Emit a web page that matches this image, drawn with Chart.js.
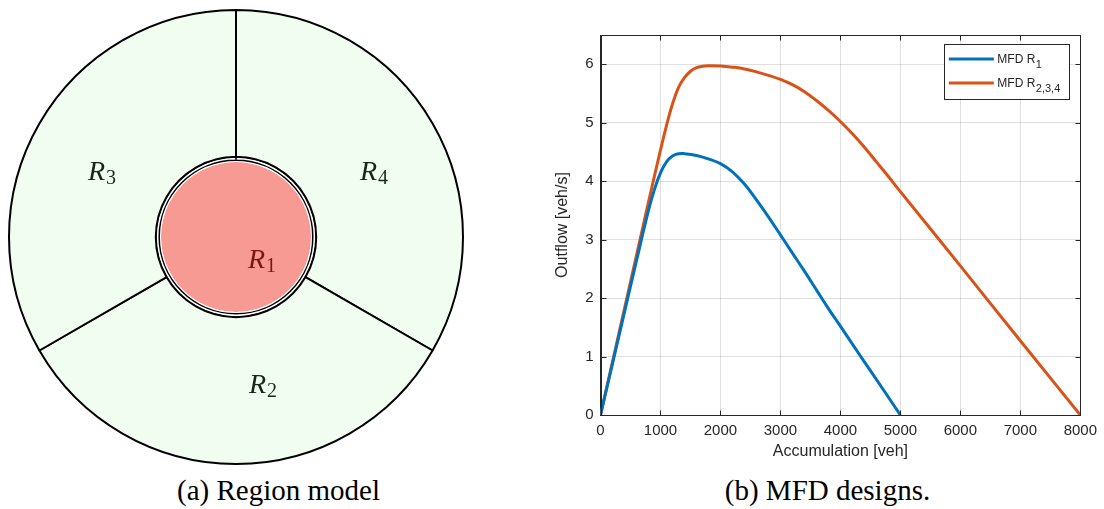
<!DOCTYPE html>
<html lang="en">
<head>
  <meta charset="UTF-8">
  <title>Region model and MFD designs</title>
  <script src="https://cdn.jsdelivr.net/npm/chart.js"></script>
  <style>
    body {
      margin: 0;
      background: #fff;
      width: 1104px;
      height: 509px;
      position: relative;
      overflow: hidden;
    }
    canvas { position: absolute; }
    #regions { left: 8px; top: 9px; }
    #mfd { left: 540px; top: 2px; }
    .caption {
      position: absolute;
      top: 476px;
      font-family: "Liberation Serif", "Times New Roman", serif;
      font-size: 29px;
      line-height: 29px;
      text-align: center;
      color: #000;
      white-space: nowrap;
    }
  </style>
</head>
<body>
  <canvas id="regions" width="456" height="456"></canvas>
  <canvas id="mfd" width="564" height="470"></canvas>
  <div class="caption" style="left:0;width:557px;">(a) Region model</div>
  <div class="caption" style="left:600px;width:455px;">(b) MFD designs.</div>

  <script>
    // --- region model (a) ---
    const sectorNames = ['4', '2', '3'];   // R4 upper right, R2 bottom, R3 upper left
    const sectorShares = [1, 1, 1];
    const centreName = '1';

    // --- MFD curves (b) ---
    const accR1 = [0, 200, 400, 600, 800, 900, 1000, 1100, 1200, 1300, 1400, 1600, 1800,
                   2000, 2200, 2400, 2600, 2800, 3000, 3200, 3400, 3600, 3800, 4000, 4300, 4500, 5000];
    const flowR1 = [0, 0.88, 1.76, 2.64, 3.5, 3.86, 4.14, 4.33, 4.43, 4.47, 4.47, 4.44, 4.38,
                    4.30, 4.16, 3.95, 3.68, 3.39, 3.08, 2.77, 2.46, 2.14, 1.82, 1.52, 1.06, 0.76, 0];

    const accR234 = [0, 200, 400, 600, 800, 900, 1000, 1100, 1200, 1300, 1400, 1500, 1600, 1700, 1800,
                     2000, 2200, 2400, 2600, 2800, 3000, 3200, 3400, 3600, 3800, 4000, 4200, 4400, 4600,
                     4800, 5000, 6000, 7000, 8000];
    const flowR234 = [0, 0.91, 1.82, 2.73, 3.64, 4.09, 4.53, 4.95, 5.32, 5.6, 5.77, 5.88, 5.94, 5.965, 5.975,
                      5.97, 5.95, 5.92, 5.87, 5.81, 5.74, 5.65, 5.53, 5.38, 5.21, 5.02, 4.81, 4.58, 4.33,
                      4.08, 3.82, 2.55, 1.27, 0];

    const xTicks = [0, 1000, 2000, 3000, 4000, 5000, 6000, 7000, 8000];
    const yTicks = [0, 1, 2, 3, 4, 5, 6];
    const legendSubs = ['1', '2,3,4'];

    const axisColor = '#262626';
    const sans = '"Liberation Sans", Arial, Helvetica, sans-serif';
    const serif = '"Liberation Serif", "Times New Roman", serif';

    // labels of the region model, baseline-left offsets from the centre
    const regionLabelPlugin = {
      id: 'regionLabels',
      afterDraw(chart) {
        const arc = chart.getDatasetMeta(0).data[0];
        const cx = arc.x, cy = arc.y;
        const ctx = chart.ctx;
        const spots = [
          { sub: sectorNames[0], dx: 124, dy: -57, color: '#142814' },
          { sub: sectorNames[1], dx: 13, dy: 156, color: '#142814' },
          { sub: sectorNames[2], dx: -148, dy: -57, color: '#142814' },
          { sub: centreName, dx: 12, dy: 31, color: '#7b1515' }
        ];
        ctx.save();
        ctx.textBaseline = 'alphabetic';
        ctx.textAlign = 'left';
        spots.forEach(s => {
          ctx.fillStyle = s.color;
          ctx.font = 'italic 28px ' + serif;
          ctx.fillText('R', cx + s.dx, cy + s.dy);
          const w = ctx.measureText('R').width;
          ctx.font = '20px ' + serif;
          ctx.fillText(s.sub, cx + s.dx + w + 1, cy + s.dy + 4);
        });
        ctx.restore();
      }
    };

    new Chart(document.getElementById('regions'), {
      type: 'doughnut',
      data: {
        labels: sectorNames.map(n => 'R' + n),
        datasets: [
          { data: sectorShares, backgroundColor: '#f2fdf2', borderColor: '#000', borderWidth: 2, weight: 146.8 },
          { data: [1], backgroundColor: '#fff', borderColor: '#000', borderWidth: 1.5, weight: 3.4 },
          { data: [1], backgroundColor: '#fff', borderColor: '#fff', borderWidth: 0, weight: 1.8 },
          { data: [1], backgroundColor: '#f69a93', borderColor: '#f69a93', borderWidth: 0, weight: 75 }
        ]
      },
      options: {
        responsive: false,
        animation: false,
        events: [],
        cutout: 0,
        rotation: 0,
        hoverOffset: 0,
        offset: 0,
        plugins: { legend: { display: false }, tooltip: { enabled: false } }
      },
      plugins: [regionLabelPlugin]
    });

    // MATLAB-like box with inward ticks on all four sides
    const boxPlugin = {
      id: 'box',
      afterDatasetsDraw(chart) {
        const { ctx, chartArea: a, scales } = chart;
        const L = Math.round(a.left) + 0.5, R = Math.round(a.right) + 0.5;
        const T = Math.round(a.top) + 0.5, B = Math.round(a.bottom) + 0.5;
        ctx.save();
        ctx.strokeStyle = axisColor;
        ctx.lineWidth = 1;
        ctx.beginPath();
        ctx.rect(L, T, R - L, B - T);
        xTicks.forEach(v => {
          const px = Math.round(scales.x.getPixelForValue(v)) + 0.5;
          ctx.moveTo(px, B); ctx.lineTo(px, B - 5);
          ctx.moveTo(px, T); ctx.lineTo(px, T + 5);
        });
        yTicks.forEach(v => {
          const py = Math.round(scales.y.getPixelForValue(v)) + 0.5;
          ctx.moveTo(L, py); ctx.lineTo(L + 5, py);
          ctx.moveTo(R, py); ctx.lineTo(R - 5, py);
        });
        ctx.stroke();
        ctx.restore();
      },
      afterDraw(chart) {
        // legend with subscripts
        const { ctx, chartArea: a } = chart;
        const right = a.right - 11.5, top = a.top + 9;
        const left = right - 124.5, bottom = top + 54.5;
        ctx.save();
        ctx.fillStyle = '#fff';
        ctx.fillRect(left, top, right - left, bottom - top);
        ctx.strokeStyle = axisColor;
        ctx.lineWidth = 1;
        ctx.strokeRect(Math.round(left) + 0.5, Math.round(top) + 0.5, Math.round(right - left), Math.round(bottom - top));
        chart.data.datasets.forEach((ds, i) => {
          const y = top + 15 + i * 24;
          ctx.strokeStyle = ds.borderColor;
          ctx.lineWidth = 3;
          ctx.beginPath();
          ctx.moveTo(left + 4.5, y);
          ctx.lineTo(left + 49.5, y);
          ctx.stroke();
          ctx.fillStyle = axisColor;
          ctx.textBaseline = 'alphabetic';
          ctx.font = '12px ' + sans;
          ctx.fillText('MFD R', left + 53, y + 4);
          const w = ctx.measureText('MFD R').width;
          ctx.font = '11px ' + sans;
          ctx.fillText(legendSubs[i], left + 53 + w + 0.5, y + 9);
        });
        ctx.restore();
      }
    };

    new Chart(document.getElementById('mfd'), {
      type: 'line',
      data: {
        datasets: [
          {
            label: 'MFD R1',
            data: accR1.map((x, i) => ({ x: x, y: flowR1[i] })),
            borderColor: '#0072bd',
            borderWidth: 3,
            pointRadius: 0,
            fill: false,
            tension: 0.4
          },
          {
            label: 'MFD R2,3,4',
            data: accR234.map((x, i) => ({ x: x, y: flowR234[i] })),
            borderColor: '#d95319',
            borderWidth: 3,
            pointRadius: 0,
            fill: false,
            tension: 0.4
          }
        ]
      },
      options: {
        responsive: false,
        animation: false,
        events: [],
        layout: { padding: { top: 33, right: 20.7, left: 0, bottom: 0 } },
        plugins: { legend: { display: false }, tooltip: { enabled: false } },
        scales: {
          x: {
            type: 'linear',
            min: 0,
            max: 8000,
            afterBuildTicks: s => { s.ticks = xTicks.map(v => ({ value: v })); },
            afterFit: s => { s.height = 57; },
            ticks: {
              color: axisColor,
              font: { family: sans, size: 15 },
              padding: 7,
              maxRotation: 0,
              callback: v => String(v)
            },
            grid: { color: 'rgba(38,38,38,0.15)', drawTicks: false },
            border: { color: axisColor, width: 1 },
            title: {
              display: true,
              text: 'Accumulation [veh]',
              color: axisColor,
              font: { family: sans, size: 16 },
              padding: { top: 0, bottom: 11 }
            }
          },
          y: {
            min: 0,
            max: 6.5,
            afterBuildTicks: s => { s.ticks = yTicks.map(v => ({ value: v })); },
            afterFit: s => { s.width = 60.5; },
            ticks: { color: axisColor, font: { family: sans, size: 15 }, padding: 7, callback: v => String(v) },
            grid: { color: 'rgba(38,38,38,0.15)', drawTicks: false },
            border: { color: axisColor, width: 1 },
            title: {
              display: true,
              text: 'Outflow [veh/s]',
              color: axisColor,
              font: { family: sans, size: 16 },
              padding: { top: 13, bottom: 0 }
            }
          }
        }
      },
      plugins: [boxPlugin]
    });
  </script>
</body>
</html>
